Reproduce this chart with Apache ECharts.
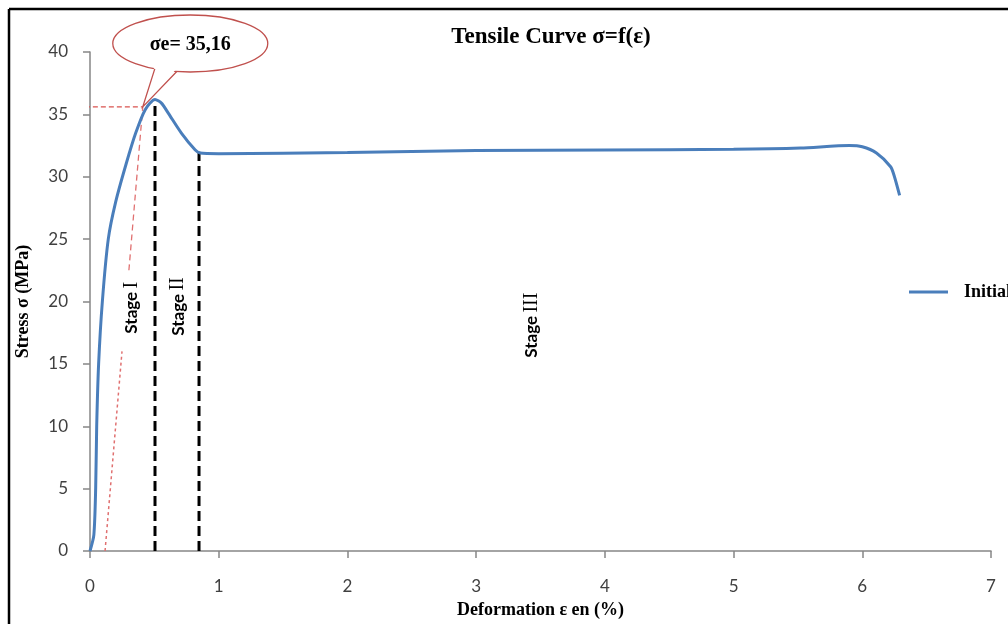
<!DOCTYPE html>
<html>
<head>
<meta charset="utf-8">
<script src="https://cdn.jsdelivr.net/npm/echarts@6/dist/echarts.min.js"></script>
<style>
html,body{margin:0;padding:0;background:#fff;}
#c{width:1008px;height:624px;}
</style>
</head>
<body>
<div id="c"></div>
<script>
// ---- data ----
const strain = [0, 0.03, 0.044, 0.052, 0.067, 0.096, 0.142, 0.2, 0.28, 0.355, 0.43, 0.505, 0.555, 0.608, 0.71, 0.816, 0.855, 1.0, 2.0, 3.0, 4.0, 5.0, 5.52, 5.9, 6.0, 6.11, 6.22, 6.25, 6.29];
const stress = [0, 1.3, 5, 10, 15, 20, 25, 28, 31, 33.5, 35.4, 36.2, 35.9, 35.1, 33.5, 32.16, 31.9, 31.85, 31.95, 32.1, 32.15, 32.2, 32.3, 32.5, 32.4, 31.9, 30.8, 30.0, 28.5];
const seriesName = 'Initial';
const xTicks = [0, 1, 2, 3, 4, 5, 6, 7];
const yTicks = [0, 5, 10, 15, 20, 25, 30, 35, 40];
// stage boundaries (strain, stress at top)
const stageLineX = [0.505, 0.847];
const stageLineTop = [36.2, 32.0];
// elastic limit construction
const yieldStress = 35.6;
const offsetStart = [0.117, 0];
const offsetEnd = [0.41, 35.6];
const offsetGap = [16, 22.5];
const calloutText = 'σe= 35,16';
const stageNames = ['I', 'II', 'III'];
const stagePos = [[0.326, 19.5], [0.684, 19.6], [3.43, 18.1]];

const chart = echarts.init(document.getElementById('c'));
const curve = strain.map((x, i) => [x, stress[i]]);
const slopeAt = s => offsetStart[0] + (s - offsetStart[1]) / (offsetEnd[1] - offsetStart[1]) * (offsetEnd[0] - offsetStart[0]);

const serifBold = {fontFamily: '"Liberation Serif","DejaVu Serif",serif', fontWeight: 'bold', color: '#000'};

const series = [
  {
    name: seriesName, type: 'line', data: curve, smooth: 0.25, showSymbol: false,
    lineStyle: {color: '#4a7ebb', width: 3}, itemStyle: {color: '#4a7ebb'}, z: 5
  }
];
stageLineX.forEach((x, i) => {
  series.push({
    type: 'line', data: [[x, 0], [x, stageLineTop[i]]], showSymbol: false, silent: true,
    lineStyle: {color: '#000', width: 3, type: [10, 5]}, z: 3
  });
});
series.push({
  type: 'line', data: [[-0.04, yieldStress], [offsetEnd[0], yieldStress]], showSymbol: false, silent: true, clip: false,
  lineStyle: {color: '#d9534f', width: 1.3, type: [5, 3]}, z: 2
});
series.push({
  type: 'line', data: [offsetStart, [slopeAt(offsetGap[0]), offsetGap[0]]], showSymbol: false, silent: true,
  lineStyle: {color: '#e07070', width: 1.5, type: [3, 3]}, z: 2
});
series.push({
  type: 'line', data: [[slopeAt(offsetGap[1]), offsetGap[1]], offsetEnd], showSymbol: false, silent: true,
  lineStyle: {color: '#e07070', width: 1.3, type: [6, 4]}, z: 2
});

chart.setOption({
  animation: false,
  grid: {left: 90, right: 17, top: 52, bottom: 72, containLabel: false},
  legend: {
    data: [{name: seriesName, icon: 'rect'}],
    left: 904, top: 278, itemWidth: 39, itemHeight: 3,
    textStyle: Object.assign({fontSize: 18, padding: [0, 0, 0, 11]}, serifBold)
  },
  xAxis: {
    type: 'value', min: 0, max: 7, interval: 1,
    name: 'Deformation ε en (%)', nameLocation: 'middle', nameGap: 50,
    nameTextStyle: Object.assign({fontSize: 18}, serifBold),
    axisLine: {lineStyle: {color: '#868686', width: 1.5}},
    axisTick: {show: true, length: 7, lineStyle: {color: '#868686', width: 1.5}},
    splitLine: {show: false},
    axisLabel: {margin: 27, fontSize: 17, fontFamily: 'Lato', color: '#404040',
      formatter: v => xTicks.includes(v) ? String(v) : ''}
  },
  yAxis: {
    type: 'value', min: 0, max: 40, interval: 5,
    name: 'Stress σ (MPa)', nameLocation: 'middle', nameGap: 58,
    nameTextStyle: Object.assign({fontSize: 18}, serifBold),
    axisLine: {show: true, lineStyle: {color: '#868686', width: 1.5}},
    axisTick: {show: true, length: 7, lineStyle: {color: '#868686', width: 1.5}},
    splitLine: {show: false},
    axisLabel: {margin: 22, fontSize: 17, fontFamily: 'Lato', color: '#404040',
      formatter: v => yTicks.includes(v) ? String(v) : ''}
  },
  series: series
});

// annotations positioned through the chart's own scales
const tip = chart.convertToPixel({gridIndex: 0}, offsetEnd);
const cx = tip[0] + 47.5, cy = 43.5, rx = 77.5, ry = 28.5;
const ellY = x => cy + ry * Math.sqrt(Math.max(0, 1 - Math.pow((x - cx) / rx, 2)));
const bl = tip[0] + 12, br = tip[0] + 34;
const graphics = [
  {type: 'line', shape: {x1: 9, y1: 9, x2: 1008, y2: 9}, style: {stroke: '#000', lineWidth: 2.5}, z: 100},
  {type: 'line', shape: {x1: 9, y1: 9, x2: 9, y2: 624}, style: {stroke: '#000', lineWidth: 2.5}, z: 100},
  {type: 'text', x: 551, y: 37, style: {text: 'Tensile Curve σ=f(ε)', fontSize: 23, fontFamily: serifBold.fontFamily, fontWeight: 'bold', align: 'center', verticalAlign: 'middle', fill: '#000'}, z: 100},
  {type: 'ellipse', shape: {cx: cx, cy: cy, rx: rx, ry: ry}, style: {fill: '#fff', stroke: '#c0504d', lineWidth: 1.3}, z: 100},
  {type: 'polygon', shape: {points: [[bl, ellY(bl) - 3], tip, [br, ellY(br) - 3]]}, style: {fill: '#fff'}, z: 101},
  {type: 'polyline', shape: {points: [[bl, ellY(bl)], tip, [br, ellY(br)]]}, style: {stroke: '#c0504d', lineWidth: 1.3, fill: null}, z: 102},
  {type: 'text', x: cx, y: cy + 1, style: {text: calloutText, fontSize: 20, fontFamily: serifBold.fontFamily, fontWeight: 'bold', fill: '#000', align: 'center', verticalAlign: 'middle'}, z: 103}
];
stagePos.forEach((p, i) => {
  const px = chart.convertToPixel({gridIndex: 0}, p);
  graphics.push({
    type: 'text', x: px[0], y: px[1], rotation: Math.PI / 2, z: 50,
    style: {
      text: '{a|Stage} {b|' + stageNames[i] + '}', align: 'center', verticalAlign: 'middle',
      rich: {
        a: {fontFamily: 'Lato', fontWeight: 'bold', fontSize: 17, fill: '#000', color: '#000'},
        b: {fontFamily: '"Liberation Serif",serif', fontSize: 20, fill: '#000', color: '#000'}
      }
    }
  });
});
chart.setOption({graphic: graphics});
</script>
</body>
</html>
